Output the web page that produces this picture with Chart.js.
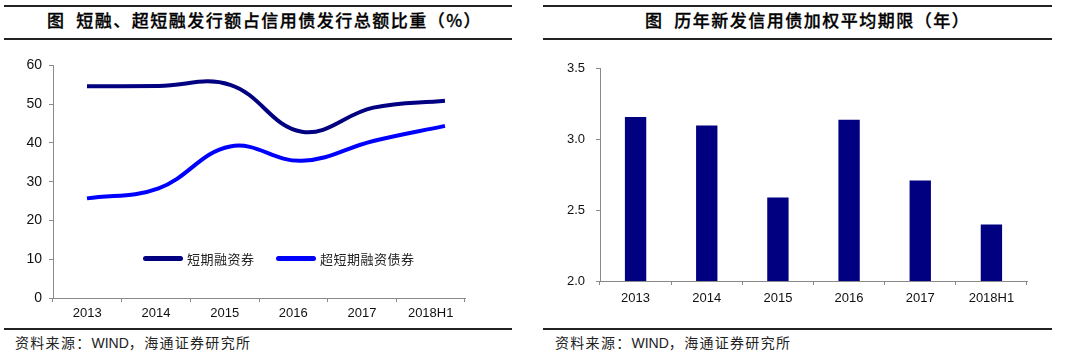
<!DOCTYPE html>
<html>
<head>
<meta charset="utf-8">
<script src="https://cdn.jsdelivr.net/npm/chart.js@4/dist/chart.umd.min.js"></script>
<style>
  body { margin: 0; background: #fff; width: 1080px; height: 354px; position: relative; overflow: hidden;
         font-family: "Noto Sans CJK SC", sans-serif; }
  .rule { position: absolute; background: #222; }
  .title { position: absolute; top: 8px; font-size: 17px; font-weight: 500; color: #000; white-space: nowrap;
           letter-spacing: 1.5px; line-height: 24px; -webkit-text-stroke: 0.3px #000; }
  .src { position: absolute; top: 333px; font-size: 14px; color: #222; white-space: nowrap; line-height: 18px;
         letter-spacing: 1.3px; }
  .src .lat { font-family: "Liberation Sans", Arial, sans-serif; letter-spacing: 0; }
  canvas { position: absolute; }
  .lg-line { position: absolute; height: 5px; border-radius: 3px; }
  .lg-text { position: absolute; font-size: 13px; color: #222; line-height: 16px; white-space: nowrap; letter-spacing: 0.5px; }
</style>
</head>
<body>
<div class="rule" style="left:4px;top:5px;width:508px;height:2px"></div>
<div class="rule" style="left:4px;top:38px;width:508px;height:1.5px"></div>
<div class="title" style="left:47px">图&nbsp;&nbsp;短融、超短融发行额占信用债发行总额比重（%）</div>
<div class="rule" style="left:4px;top:328px;width:508px;height:1.5px"></div>
<div class="src" style="left:15px">资料来源：<span class="lat">WIND</span>，海通证券研究所</div>

<div class="rule" style="left:543px;top:5px;width:509px;height:2px"></div>
<div class="rule" style="left:543px;top:38px;width:509px;height:1.5px"></div>
<div class="title" style="left:645px">图&nbsp;&nbsp;历年新发信用债加权平均期限（年）</div>
<div class="rule" style="left:543px;top:328px;width:509px;height:1.5px"></div>
<div class="src" style="left:555px">资料来源：<span class="lat">WIND</span>，海通证券研究所</div>

<canvas id="shareChart" width="520" height="280" style="left:0;top:50px"></canvas>
<canvas id="tenorChart" width="520" height="275" style="left:545px;top:50px"></canvas>
<div id="legend"></div>

<script>
const years = ['2013', '2014', '2015', '2016', '2017', '2018H1'];
const seriesNames = ['短期融资券', '超短期融资债券'];
const cpShare = [54.6, 54.7, 55.0, 42.9, 49.1, 50.9];
const scpShare = [25.7, 28.3, 39.1, 35.4, 40.5, 44.4];
const avgTenor = [3.16, 3.10, 2.59, 3.14, 2.71, 2.40];
const shareTicks = [0, 60, 10];
const tenorTicks = [2.0, 3.5, 0.5];

const colors = ['#000080', '#0000ff'];
const axisColor = '#8a8a8a';
const tickFont = { family: '"Liberation Sans", Arial, sans-serif', size: 13 };

// legend inside the left plot
const legendSpots = [[143, 187], [276, 320]];
const legend = document.getElementById('legend');
seriesNames.forEach((name, i) => {
    legend.innerHTML +=
        '<div class="lg-line" style="left:' + legendSpots[i][0] + 'px;top:256px;width:40px;background:' + colors[i] + '"></div>' +
        '<div class="lg-text" style="left:' + legendSpots[i][1] + 'px;top:251px">' + name + '</div>';
});

function xAxis(padding) {
    return {
        offset: true,
        grid: { offset: true, drawOnChartArea: false, tickLength: 4, color: axisColor },
        border: { color: axisColor },
        ticks: { color: '#111', font: tickFont, padding: padding, maxRotation: 0 },
        afterFit(s) { s.height = 30; }
    };
}

function yAxis(t, w, padding, digits, size) {
    return {
        min: t[0], max: t[1],
        grid: { drawOnChartArea: false, tickLength: 4, color: axisColor },
        border: { color: axisColor },
        ticks: { stepSize: t[2], color: '#111', font: { family: tickFont.family, size: size }, padding: padding,
                 callback: v => v.toFixed(digits) },
        afterFit(s) { s.width = w; }
    };
}

// in the source the line points sit a bit wider apart than the category labels
const asPoints = arr => arr.map((v, i) => ({ x: i, y: v }));

new Chart(document.getElementById('shareChart'), {
    type: 'line',
    data: {
        labels: years,
        datasets: [
            { label: seriesNames[0], data: asPoints(cpShare), xAxisID: 'xp', borderColor: colors[0],
              borderWidth: 4, pointRadius: 0, tension: 0.4 },
            { label: seriesNames[1], data: asPoints(scpShare), xAxisID: 'xp', borderColor: colors[1],
              borderWidth: 4, pointRadius: 0, tension: 0.4 }
        ]
    },
    options: {
        responsive: false,
        animation: false,
        devicePixelRatio: 1,
        layout: { padding: { top: 14, right: 55, bottom: 2, left: 0 } },
        plugins: { legend: { display: false }, tooltip: { enabled: false } },
        scales: {
            x: xAxis(4),
            xp: { type: 'linear', display: false, min: -0.475, max: 5.28 },
            y: yAxis(shareTicks, 53, 7, 0, 14)
        }
    }
});

new Chart(document.getElementById('tenorChart'), {
    type: 'bar',
    data: {
        labels: years,
        datasets: [
            { label: '加权平均期限', data: avgTenor, backgroundColor: colors[0], barPercentage: 0.3, categoryPercentage: 1 }
        ]
    },
    options: {
        responsive: false,
        animation: false,
        devicePixelRatio: 1,
        layout: { padding: { top: 17, right: 38, bottom: 14, left: 0 } },
        plugins: { legend: { display: false }, tooltip: { enabled: false } },
        scales: { x: xAxis(6), y: yAxis(tenorTicks, 55, 11, 1, 13) }
    }
});
</script>
</body>
</html>
